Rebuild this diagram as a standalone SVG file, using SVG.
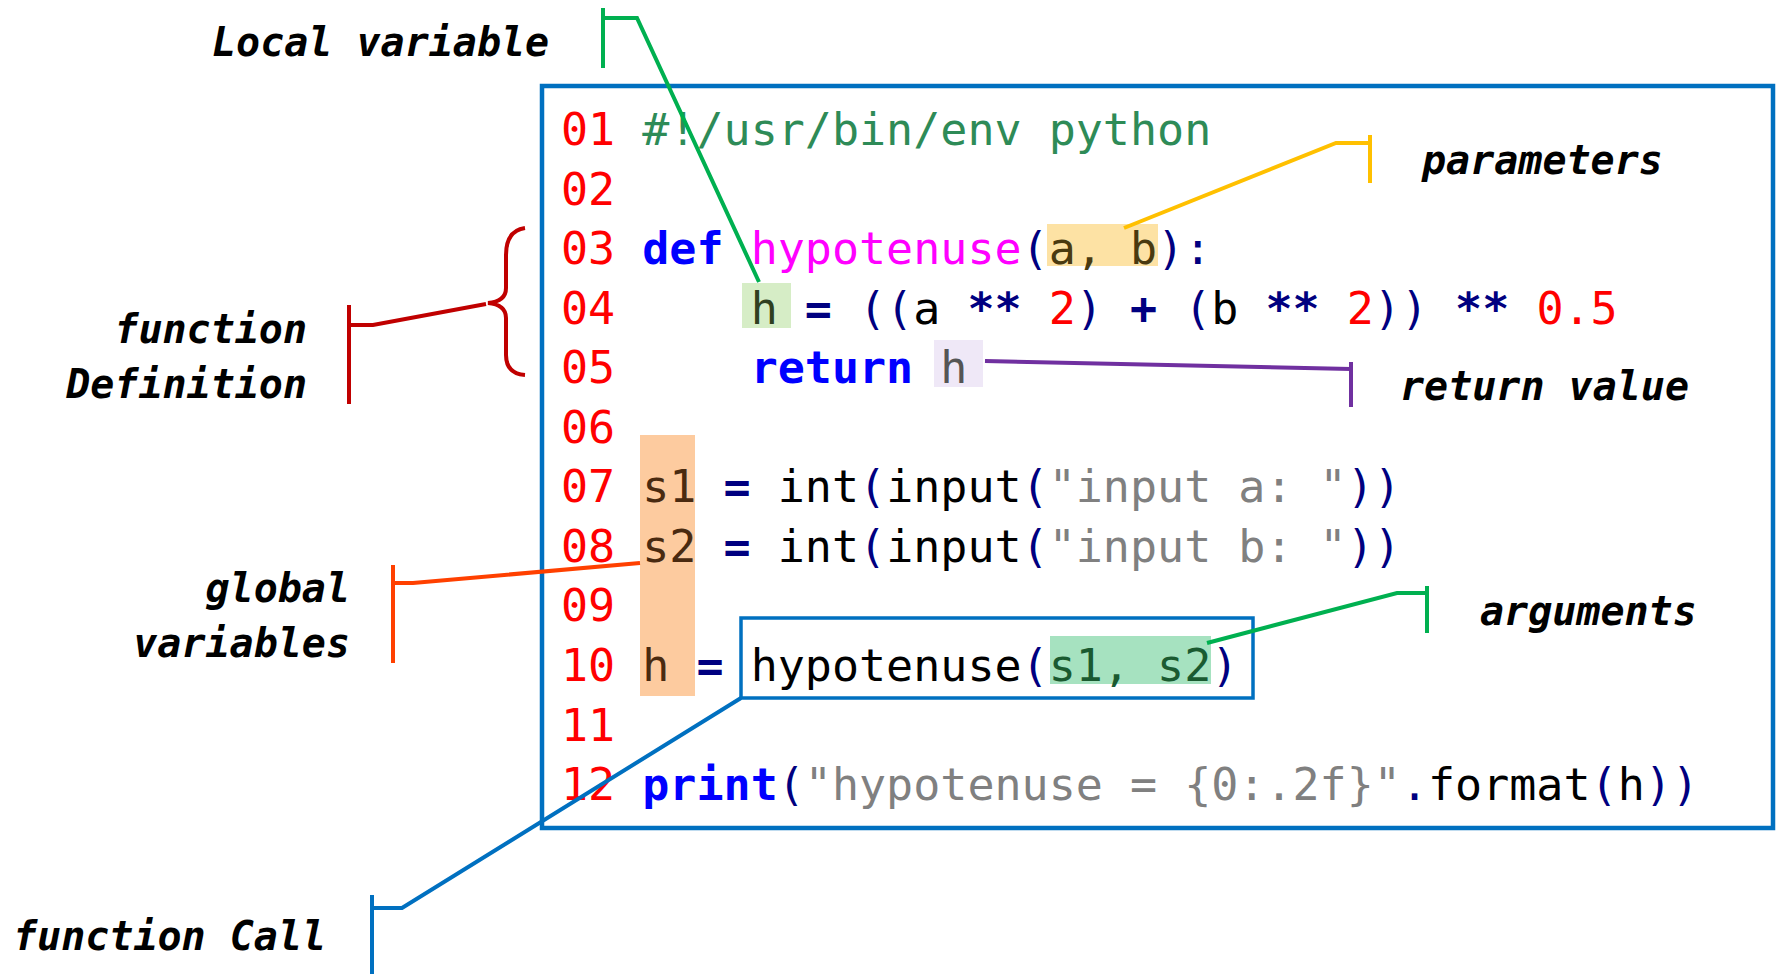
<svg xmlns="http://www.w3.org/2000/svg" width="1776" height="974" viewBox="0 0 1776 974">
  <style>
    .code { font-family: "DejaVu Sans Mono", "Liberation Mono", monospace; font-size: 45px; white-space: pre; fill: #000000; }
    .ln { fill: #FF0000; }
    .cm { fill: #2E8B57; }
    .kw { fill: #0000FF; font-weight: bold; }
    .fn { fill: #FF00FF; }
    .p { fill: #000080; }
    .op { fill: #000080; font-weight: bold; }
    .num { fill: #FF0000; }
    .str { fill: #808080; }
    .label { font-family: "DejaVu Sans Mono", "Liberation Mono", monospace; font-size: 40px; font-weight: bold; font-style: italic; fill: #000000; }
    .conn { fill: none; stroke-width: 4; stroke-linejoin: miter; stroke-linecap: butt; }
  </style>

  <rect width="1776" height="974" fill="#FFFFFF"/>

  <!-- code listing panel -->
  <g id="code-panel">
    <rect x="542" y="86" width="1231" height="742" fill="#FFFFFF" stroke="#0070C0" stroke-width="4.5"/>
    <!-- highlights behind the code -->
    <rect x="1047" y="224" width="111" height="42" fill="#FDE2A4"/>
    <rect x="742" y="283" width="49" height="45" fill="#D6EDC6"/>
    <rect x="934" y="340" width="49" height="47" fill="#EFE8F7"/>
    <rect x="640" y="435" width="55" height="261" fill="#FDCB9F"/>
    <rect x="1050" y="636" width="161" height="48" fill="#A6E2C0"/>

    <text class="code" x="561" y="145"><tspan class="ln">01</tspan> <tspan class="cm">#!/usr/bin/env python</tspan></text>
    <text class="code" x="561" y="204.5"><tspan class="ln">02</tspan></text>
    <text class="code" x="561" y="264"><tspan class="ln">03</tspan> <tspan class="kw">def</tspan> <tspan class="fn">hypotenuse</tspan><tspan class="p">(</tspan><tspan fill="#4A3A10">a, b</tspan><tspan class="p">):</tspan></text>
    <text class="code" x="561" y="323.7"><tspan class="ln">04</tspan>     <tspan fill="#2F3F20">h</tspan> <tspan class="op">=</tspan> <tspan class="p">((</tspan>a <tspan class="op">**</tspan> <tspan class="num">2</tspan><tspan class="p">)</tspan> <tspan class="op">+</tspan> <tspan class="p">(</tspan>b <tspan class="op">**</tspan> <tspan class="num">2</tspan><tspan class="p">))</tspan> <tspan class="op">**</tspan> <tspan class="num">0.5</tspan></text>
    <text class="code" x="561" y="383.2"><tspan class="ln">05</tspan>     <tspan class="kw">return</tspan> <tspan fill="#555555">h</tspan></text>
    <text class="code" x="561" y="442.8"><tspan class="ln">06</tspan></text>
    <text class="code" x="561" y="502.3"><tspan class="ln">07</tspan> <tspan fill="#4A2A10">s1</tspan> <tspan class="op">=</tspan> int<tspan class="p">(</tspan>input<tspan class="p">(</tspan><tspan class="str">"input a: "</tspan><tspan class="p">))</tspan></text>
    <text class="code" x="561" y="561.9"><tspan class="ln">08</tspan> <tspan fill="#4A2A10">s2</tspan> <tspan class="op">=</tspan> int<tspan class="p">(</tspan>input<tspan class="p">(</tspan><tspan class="str">"input b: "</tspan><tspan class="p">))</tspan></text>
    <text class="code" x="561" y="621.4"><tspan class="ln">09</tspan></text>
    <text class="code" x="561" y="681"><tspan class="ln">10</tspan> <tspan fill="#4A2A10">h</tspan> <tspan class="op">=</tspan> hypotenuse<tspan class="p">(</tspan><tspan fill="#1A5A30">s1, s2</tspan><tspan class="p">)</tspan></text>
    <text class="code" x="561" y="740.5"><tspan class="ln">11</tspan></text>
    <text class="code" x="561" y="800"><tspan class="ln">12</tspan> <tspan class="kw">print</tspan><tspan class="p">(</tspan><tspan class="str">"hypotenuse = {0:.2f}"</tspan><tspan class="p">.</tspan>format<tspan class="p">(</tspan>h<tspan class="p">))</tspan></text>

    <!-- frame around the call on line 10 -->
    <rect x="741" y="618" width="512" height="80" fill="none" stroke="#0070C0" stroke-width="3.5"/>
  </g>

  <!-- annotation labels -->
  <g id="label-local-variable">
    <text class="label" x="212" y="56">Local variable</text>
  </g>
  <g id="label-parameters">
    <text class="label" x="1422" y="174">parameters</text>
  </g>
  <g id="label-function-definition">
    <text class="label" x="307" y="343" text-anchor="end">function</text>
    <text class="label" x="307" y="398" text-anchor="end">Definition</text>
  </g>
  <g id="label-return-value">
    <text class="label" x="1400" y="400">return value</text>
  </g>
  <g id="label-global-variables">
    <text class="label" x="350" y="602" text-anchor="end">global</text>
    <text class="label" x="350" y="657" text-anchor="end">variables</text>
  </g>
  <g id="label-arguments">
    <text class="label" x="1480" y="625">arguments</text>
  </g>
  <g id="label-function-call">
    <text class="label" x="13" y="950">function Call</text>
  </g>

  <!-- callout connectors -->
  <g id="connectors">
    <!-- local variable -->
    <path class="conn" stroke="#00B050" stroke-width="3.5" d="M603 8 V68 M603 18 H637 L759 282"/>
    <!-- parameters -->
    <path class="conn" stroke="#FFC000" d="M1370 135 V183 M1370 143 H1336 L1124 228"/>
    <!-- function definition: bracket, leader and brace -->
    <path class="conn" stroke="#C00000" d="M349 305 V404 M349 325 H373 L486 304"/>
    <path class="conn" stroke="#C00000" stroke-width="4.5" d="M525 228 C511 230 506 240 506 255 L506 288 C506 298 499 302 488 303 C499 304 506 308 506 318 L506 355 C506 367 512 374 525 375"/>
    <!-- return value -->
    <path class="conn" stroke="#7030A0" d="M985 361 L1351 369 M1351 362 V407"/>
    <!-- global variables -->
    <path class="conn" stroke="#FF4000" d="M393 565 V663 M393 583 H413 L640 563"/>
    <!-- arguments -->
    <path class="conn" stroke="#00B050" d="M1207 643 L1397 593 H1427 M1427 586 V633"/>
    <!-- function call -->
    <path class="conn" stroke="#0070C0" d="M372 895 V974 M372 908 H402 L741 698"/>
  </g>
</svg>
